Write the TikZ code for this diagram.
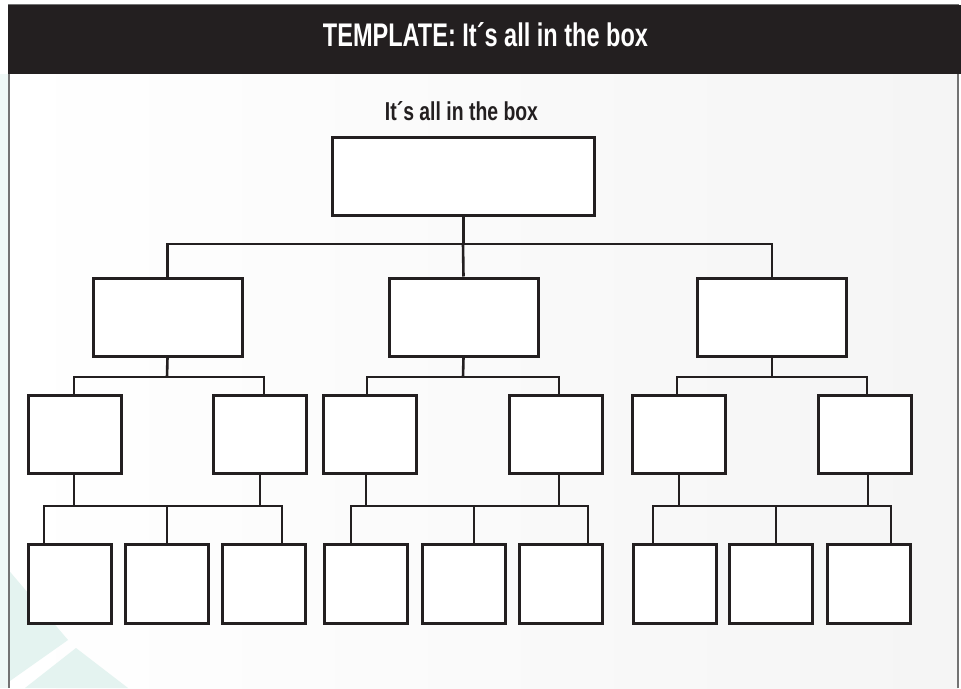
\documentclass[tikz,border=0pt]{standalone}
\usepackage{fontspec}
\usepackage{graphicx}
\setmainfont{Liberation Sans}
\definecolor{ink}{HTML}{231F20}
\definecolor{teal0}{HTML}{E4F3F0}
\tikzset{
  bx/.style={draw=ink, line width=3pt, fill=white, inner sep=0pt, minimum height=78pt},
  b2/.style={bx, minimum width=149pt},
  b3/.style={bx, minimum width=93pt},
  b4/.style={bx, minimum width=83pt, minimum height=79pt},
  ln/.style={draw=ink, line width=2.6pt},
}
\begin{document}
\begin{tikzpicture}[x=1pt,y=-1pt]
\useasboundingbox (0,0) rectangle (961,688);
\fill[white] (0,0) rectangle (961,688);
\shade[left color=white, right color=black!4] (9,74) rectangle (958,688);
% faint teal background shapes
\fill[teal0] (0,560) -- (68,640) -- (0,688) -- cycle;
\fill[teal0] (25,688) -- (76,648) -- (128,688) -- cycle;
\fill[teal0!60] (0,74) rectangle (8,688);
% frame
\draw[black!55, line width=1.3pt] (9,688) -- (9,4.5) -- (958,4.5) -- (958,688);
% header
\fill[ink] (8,5) rectangle (961,74);
\node[text=white, inner sep=0pt] (title) at (485.5,35) {\resizebox{325pt}{24pt}{\bfseries TEMPLATE: It´s all in the box}};
\node[text=ink, inner sep=0pt] (sub) at (461.5,111.5) {\resizebox{153pt}{19pt}{\bfseries It´s all in the box}};
% junction coordinates
\coordinate (j1) at (463,244);
\coordinate (j2a) at (167,377);
\coordinate (j2b) at (463,377);
\coordinate (j2c) at (772,377);
\coordinate (k1) at (74,377);
\coordinate (k2) at (264,377);
\coordinate (k3) at (367,377);
\coordinate (k4) at (559,377);
\coordinate (k5) at (677,377);
\coordinate (k6) at (867,377);
\coordinate (j3a) at (74,506);
\coordinate (j3a2) at (260,506);
\coordinate (j3b) at (366,506);
\coordinate (j3b2) at (559,506);
\coordinate (j3c) at (679,506);
\coordinate (j3c2) at (868,506);
\coordinate (d1) at (44,506);
\coordinate (d2) at (167,506);
\coordinate (d3) at (282,506);
\coordinate (d4) at (351,506);
\coordinate (d5) at (474,506);
\coordinate (d6) at (588,506);
\coordinate (d7) at (653,506);
\coordinate (d8) at (776,506);
\coordinate (d9) at (891,506);
% top box
\node[bx, minimum width=262pt] (top) at (463.5,176.5) {};
% level 2
\node[b2] (l2a) at (167.5,317) {};
\node[b2] (l2b) at (463.5,317) {};
\node[b2] (l2c) at (772,317) {};
% level 3
\node[b3] (l3a) at (74.5,434.5) {};
\node[b3] (l3b) at (260,434.5) {};
\node[b3] (l3c) at (370,434.5) {};
\node[b3] (l3d) at (556,434.5) {};
\node[b3] (l3e) at (679,434.5) {};
\node[b3] (l3f) at (865,434.5) {};
% level 4
\node[b4] (l4a) at (69.5,584) {};
\node[b4] (l4b) at (166.5,584) {};
\node[b4] (l4c) at (264,584) {};
\node[b4] (l4d) at (366,584) {};
\node[b4] (l4e) at (463.5,584) {};
\node[b4] (l4f) at (561,584) {};
\node[b4] (l4g) at (674.5,584) {};
\node[b4] (l4h) at (771,584) {};
\node[b4] (l4i) at (869,584) {};
% level 1 connectors
\draw[ln] (top.south) -- (top.south |- j1);
\draw[ln] (l2a.north) -- (l2a.north |- j1) -- (l2c.north |- j1) -- (l2c.north);
\draw[ln] (j1) -- (l2b.north);
% level 2 -> 3
\draw[ln] (l2a.south) -- (j2a);
\draw[ln] (l3a.north -| k1) -- (k1) -- (k2) -- (l3b.north -| k2);
\draw[ln] (l2b.south) -- (j2b);
\draw[ln] (l3c.north -| k3) -- (k3) -- (k4) -- (l3d.north -| k4);
\draw[ln] (l2c.south) -- (j2c);
\draw[ln] (l3e.north -| k5) -- (k5) -- (k6) -- (l3f.north -| k6);
% level 3 -> 4 (left)
\draw[ln] (l3a.south -| j3a) -- (j3a);
\draw[ln] (l3b.south -| j3a2) -- (j3a2);
\draw[ln] (l4a.north -| d1) -- (d1) -- (d3) -- (l4c.north -| d3);
\draw[ln] (d2) -- (l4b.north -| d2);
% middle
\draw[ln] (l3c.south -| j3b) -- (j3b);
\draw[ln] (l3d.south -| j3b2) -- (j3b2);
\draw[ln] (l4d.north -| d4) -- (d4) -- (d6) -- (l4f.north -| d6);
\draw[ln] (d5) -- (l4e.north -| d5);
% right
\draw[ln] (l3e.south -| j3c) -- (j3c);
\draw[ln] (l3f.south -| j3c2) -- (j3c2);
\draw[ln] (l4g.north -| d7) -- (d7) -- (d9) -- (l4i.north -| d9);
\draw[ln] (d8) -- (l4h.north -| d8);
\end{tikzpicture}
\end{document}
